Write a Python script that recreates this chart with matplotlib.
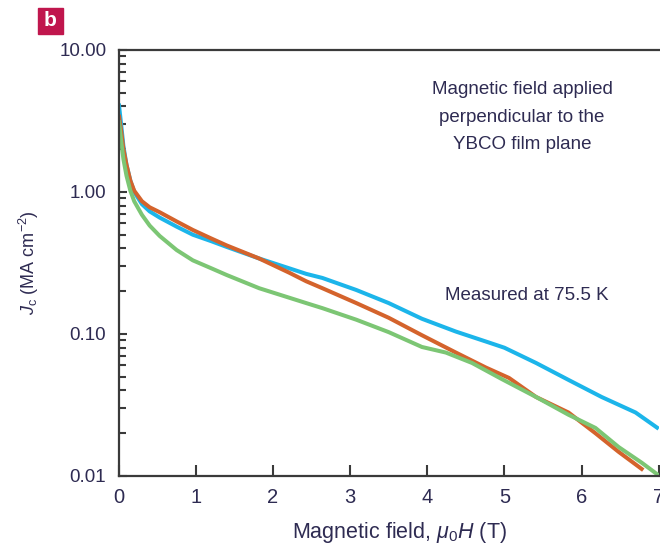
import numpy as np
import matplotlib
matplotlib.use("Agg")
import matplotlib.pyplot as plt
from matplotlib.patches import Rectangle

plt.rcParams['font.family'] = ['Liberation Sans', 'DejaVu Sans']
plt.rcParams['mathtext.fontset'] = 'custom'
plt.rcParams['mathtext.it'] = 'Liberation Sans:italic'
plt.rcParams['mathtext.rm'] = 'Liberation Sans'

# values (field in T, Jc in MA cm^-2)
h_blue = [0.0, 0.03, 0.06, 0.1, 0.15, 0.2, 0.3, 0.4, 0.53, 0.75, 0.96, 1.2, 1.40, 1.82,
          2.21, 2.43, 2.64, 3.08, 3.50, 3.93, 4.37, 4.80, 5.00, 5.41, 5.83, 6.26, 6.70, 7.00]
jc_blue = [4.2, 3.0, 2.1, 1.55, 1.2, 1.0, 0.82, 0.73, 0.66, 0.57, 0.50, 0.45, 0.41, 0.34,
           0.29, 0.265, 0.248, 0.204, 0.165, 0.128, 0.104, 0.087, 0.080, 0.0625, 0.0475,
           0.036, 0.028, 0.0215]

h_orange = [0.0, 0.03, 0.06, 0.1, 0.15, 0.2, 0.3, 0.4, 0.53, 0.75, 0.96, 1.2, 1.40, 1.82,
            2.21, 2.43, 2.64, 3.08, 3.50, 3.93, 4.37, 4.76, 5.06, 5.41, 5.83, 6.18, 6.48, 6.80]
jc_orange = [3.5, 2.7, 2.0, 1.55, 1.2, 1.02, 0.86, 0.78, 0.72, 0.62, 0.54, 0.47, 0.42, 0.34,
             0.27, 0.235, 0.21, 0.165, 0.13, 0.098, 0.074, 0.058, 0.049, 0.036, 0.028,
             0.020, 0.0148, 0.011]

h_green = [0.0, 0.03, 0.06, 0.1, 0.15, 0.2, 0.3, 0.4, 0.53, 0.75, 0.96, 1.2, 1.40, 1.82,
           2.21, 2.43, 2.64, 3.08, 3.50, 3.93, 4.24, 4.58, 4.97, 5.41, 5.83, 6.18, 6.48,
           6.78, 7.00]
jc_green = [3.2, 2.3, 1.7, 1.3, 1.02, 0.86, 0.69, 0.58, 0.49, 0.39, 0.33, 0.29, 0.26, 0.21,
            0.18, 0.165, 0.152, 0.126, 0.103, 0.081, 0.074, 0.0625, 0.048, 0.036, 0.027,
            0.0218, 0.016, 0.0124, 0.0101]

ytick_vals = [0.01, 0.1, 1, 10]
ytick_labels = ['0.01', '0.10', '1.00', '10.00']
xtick_vals = [0, 1, 2, 3, 4, 5, 6, 7]

txt = '#2e2b52'
spine = '#3a3a3a'

fig = plt.figure(figsize=(6.6, 5.49), dpi=100)
ax = fig.add_axes([0.180, 0.133, 0.818, 0.776])

ax.plot(h_blue, jc_blue, color='#1cb5ea', lw=2.9, solid_capstyle='butt')
ax.plot(h_orange, jc_orange, color='#d4632c', lw=2.9, solid_capstyle='butt')
ax.plot(h_green, jc_green, color='#7cc674', lw=2.9, solid_capstyle='butt')

ax.set_yscale('log')
ax.set_xlim(0, 7)
ax.set_ylim(0.01, 10)
ax.set_yticks(ytick_vals)
ax.set_yticklabels(ytick_labels)
ax.set_xticks(xtick_vals)
ax.set_xticklabels([str(v) for v in xtick_vals])
ax.yaxis.set_minor_locator(matplotlib.ticker.LogLocator(base=10, subs=np.arange(2, 10)))
ax.yaxis.set_minor_formatter(matplotlib.ticker.NullFormatter())

ax.tick_params(axis='y', which='major', direction='in', length=6, width=1.5,
               color=spine, labelcolor=txt, labelsize=13.5, pad=9)
ax.tick_params(axis='y', which='minor', direction='in', length=5, width=1.5, color=spine)
ax.tick_params(axis='x', which='major', direction='in', length=8, width=1.5,
               color=spine, labelcolor=txt, labelsize=14.5, pad=9)

for s in ['left', 'bottom', 'top']:
    ax.spines[s].set_linewidth(1.6)
    ax.spines[s].set_color(spine)
ax.spines['right'].set_visible(False)

ax.set_xlabel(r'Magnetic field, $\mu_0H$ (T)', color=txt, fontsize=15.5)
ax.xaxis.set_label_coords(0.52, -0.103)
ax.set_ylabel(r'$J_{\rm c}$ (MA cm$^{-2}$)', color=txt, fontsize=13, labelpad=13)

ax.text(5.23, 3.37, 'Magnetic field applied\nperpendicular to the\nYBCO film plane',
        ha='center', va='center', color=txt, fontsize=13.5, linespacing=1.8)
ax.text(5.29, 0.188, 'Measured at 75.5 K', ha='center', va='center', color=txt, fontsize=13.5)

# panel letter
fig.patches.append(Rectangle((38 / 660, 1 - 34 / 549), 25 / 660, 26 / 549,
                             transform=fig.transFigure, color='#c0164d', zorder=5))
fig.text(50.5 / 660, 1 - 21 / 549, 'b', color='white', fontsize=15, fontweight='bold',
         ha='center', va='center', zorder=6)

fig.savefig('out.png', dpi=100)
